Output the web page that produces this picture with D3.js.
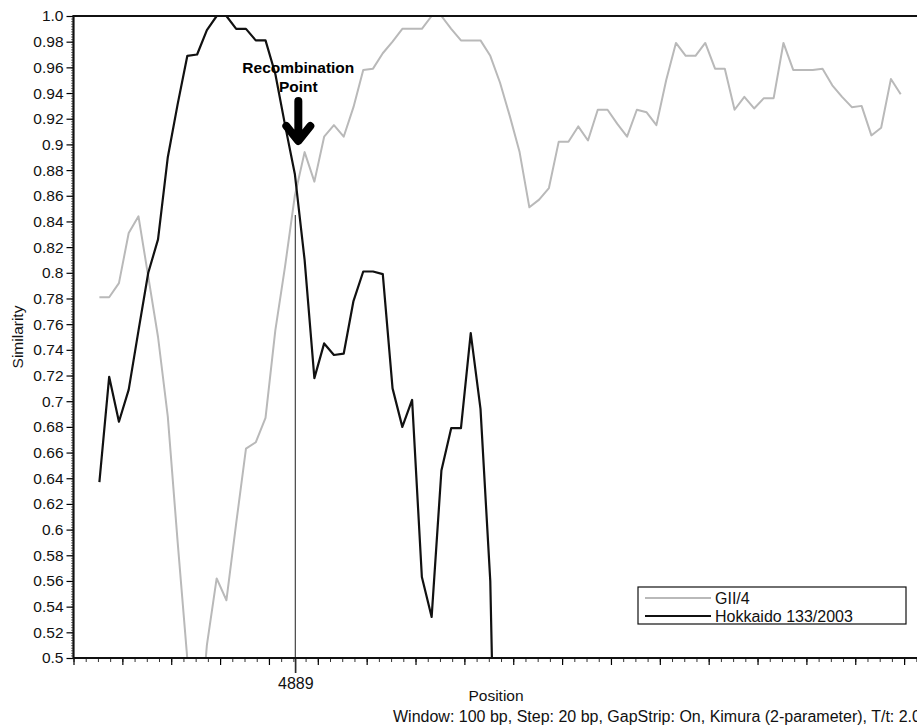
<!DOCTYPE html>
<html>
<head>
<meta charset="utf-8">
<script src="https://cdn.jsdelivr.net/npm/d3@7"></script>
<style>
  body { margin: 0; background: #fff; }
  svg { display: block; font-family: "Liberation Sans", Arial, sans-serif; }
</style>
</head>
<body>
<svg id="chart" width="917" height="727"></svg>
<script>
//Series values (similarity), one point per 20 bp step
const gii4 = [0.781, 0.781, 0.792, 0.831, 0.844, 0.797, 0.750, 0.688, 0.591, 0.499,
  0.420, 0.510, 0.562, 0.545, 0.605, 0.663, 0.668, 0.687, 0.755, 0.805,
  0.860, 0.894, 0.871, 0.906, 0.915, 0.906, 0.929, 0.958, 0.959, 0.971,
  0.980, 0.990, 0.990, 0.990, 1.000, 1.000, 0.990, 0.981, 0.981, 0.981,
  0.969, 0.948, 0.922, 0.894, 0.851, 0.857, 0.866, 0.902, 0.902, 0.914,
  0.903, 0.927, 0.927, 0.916, 0.906, 0.927, 0.925, 0.915, 0.950, 0.979,
  0.969, 0.969, 0.979, 0.959, 0.959, 0.927, 0.937, 0.928, 0.936, 0.936,
  0.979, 0.958, 0.958, 0.958, 0.959, 0.946, 0.937, 0.929, 0.930, 0.907,
  0.913, 0.951, 0.939];
const hokkaido = [0.637, 0.719, 0.684, 0.709, 0.755, 0.800, 0.826, 0.890, 0.931, 0.969,
  0.970, 0.989, 1.000, 1.000, 0.990, 0.990, 0.981, 0.981, 0.955, 0.915,
  0.877, 0.810, 0.718, 0.745, 0.736, 0.737, 0.778, 0.801, 0.801, 0.799,
  0.710, 0.680, 0.701, 0.563, 0.532, 0.646, 0.679, 0.679, 0.753, 0.694,
  0.560, 0.200];

//Window positions (bp)
const firstPosition = 4488;
const stepBp = 20;
const positions = d3.range(gii4.length).map(i => firstPosition + i * stepBp);

//Axis settings
const xMin = 4435, xMax = 6235;
const recombination = 4889;
const xTickLabels = ["4889"];
const yTickLabels = ["0.5", "0.52", "0.54", "0.56", "0.58", "0.6", "0.62", "0.64", "0.66", "0.68",
  "0.7", "0.72", "0.74", "0.76", "0.78", "0.8", "0.82", "0.84", "0.86", "0.88",
  "0.9", "0.92", "0.94", "0.96", "0.98", "1.0"];

const seriesNames = ["GII/4", "Hokkaido 133/2003"];
const seriesColors = ["#b9b9b9", "#111111"];
const footnote = "Window: 100 bp, Step: 20 bp, GapStrip: On, Kimura (2-parameter), T/t: 2.0";

//Layout
const svg = d3.select("#chart");
const plotLeft = 73.5, plotTop = 16, plotBottom = 658;
const x = d3.scaleLinear().domain([xMin, xMax]).range([plotLeft, plotLeft + (xMax - xMin) * 0.4886]);
const y = d3.scaleLinear().domain([0.5, 1.0]).range([plotBottom, plotTop]);

svg.append("clipPath").attr("id", "plot-clip")
  .append("rect")
  .attr("x", plotLeft).attr("y", plotTop)
  .attr("width", x(xMax) - plotLeft).attr("height", plotBottom - plotTop);

//Recombination line
svg.append("line")
  .attr("x1", x(recombination)).attr("x2", x(recombination))
  .attr("y1", y(0.845)).attr("y2", plotBottom + 15)
  .attr("stroke", "#444").attr("stroke-width", 1.2);

//Series lines
const line = d3.line()
  .x((d, i) => x(positions[i]))
  .y(d => y(d));

const plot = svg.append("g").attr("clip-path", "url(#plot-clip)");
[gii4, hokkaido].forEach((series, k) => {
  plot.append("path")
    .datum(series)
    .attr("d", line)
    .attr("fill", "none")
    .attr("stroke", seriesColors[k])
    .attr("stroke-width", k === 0 ? 2 : 2.2)
    .attr("stroke-linejoin", "round");
});

//Y axis
const yMinor = d3.range(0.5, 1.0001, 0.002);
svg.append("g")
  .attr("transform", `translate(${plotLeft},0)`)
  .call(d3.axisLeft(y).tickValues(yMinor).tickSize(2.5).tickFormat(""))
  .call(g => g.select(".domain").remove())
  .selectAll("line").attr("stroke", "#777");

svg.append("g")
  .attr("transform", `translate(${plotLeft},0)`)
  .call(d3.axisLeft(y).tickValues(yTickLabels.map(Number)).tickSize(7).tickPadding(3)
    .tickFormat((d, i) => yTickLabels[i]))
  .call(g => g.select(".domain").remove())
  .call(g => g.selectAll("line").attr("stroke", "#000").attr("stroke-width", 1.2))
  .call(g => g.selectAll("text").attr("font-size", 15.5).attr("fill", "#111")
    .attr("font-family", "'Liberation Sans', Arial, sans-serif"));

//X axis
const xMinor = d3.range(xMin, xMax + 1, 25);
const xMajor = d3.range(xMin, xMax + 1, 100);
svg.append("g")
  .attr("transform", `translate(0,${plotBottom})`)
  .call(d3.axisBottom(x).tickValues(xMinor).tickSize(4).tickFormat(""))
  .call(g => g.select(".domain").remove())
  .selectAll("line").attr("stroke", "#333");
svg.append("g")
  .attr("transform", `translate(0,${plotBottom})`)
  .call(d3.axisBottom(x).tickValues(xMajor).tickSize(7).tickFormat(""))
  .call(g => g.select(".domain").remove())
  .selectAll("line").attr("stroke", "#000").attr("stroke-width", 1.2);

svg.append("g")
  .attr("transform", `translate(0,${plotBottom})`)
  .call(d3.axisBottom(x).tickValues(xTickLabels.map(Number)).tickSize(15).tickPadding(5)
    .tickFormat((d, i) => xTickLabels[i]))
  .call(g => g.select(".domain").remove())
  .call(g => g.selectAll("line").attr("stroke", "#222").attr("stroke-width", 1.2))
  .call(g => g.selectAll("text").attr("font-size", 16).attr("fill", "#111")
    .attr("font-family", "'Liberation Sans', Arial, sans-serif"));

//Frame: left, top, bottom
svg.append("path")
  .attr("d", `M${x(xMax)},${plotTop}H${plotLeft}V${plotBottom}H${x(xMax)}`)
  .attr("fill", "none").attr("stroke", "#111").attr("stroke-width", 2.2);

//Axis titles
svg.append("text")
  .attr("transform", `translate(23,337) rotate(-90)`)
  .attr("text-anchor", "middle").attr("font-size", 15.5).attr("fill", "#111")
  .text("Similarity");
svg.append("text")
  .attr("x", 496).attr("y", 701)
  .attr("text-anchor", "middle").attr("font-size", 15.5).attr("fill", "#111")
  .text("Position");
svg.append("text")
  .attr("x", 393).attr("y", 722)
  .attr("font-size", 16).attr("fill", "#111")
  .text(footnote);

//Recombination annotation
const rx = x(recombination) + 3;
svg.append("text")
  .attr("x", rx).attr("y", 73)
  .attr("text-anchor", "middle").attr("font-size", 15.5).attr("font-weight", "bold")
  .text("Recombination");
svg.append("text")
  .attr("x", rx).attr("y", 92)
  .attr("text-anchor", "middle").attr("font-size", 15.5).attr("font-weight", "bold")
  .text("Point");
svg.append("path")
  .attr("d", `M${rx},101V140M${rx - 12},126L${rx},141L${rx + 12},126`)
  .attr("fill", "none").attr("stroke", "#000").attr("stroke-width", 8)
  .attr("stroke-linecap", "round").attr("stroke-linejoin", "round");

//Legend
const legend = svg.append("g").attr("transform", "translate(638,587)");
legend.append("rect")
  .attr("width", 268).attr("height", 37)
  .attr("fill", "#fff").attr("stroke", "#111").attr("stroke-width", 1.2);
seriesNames.forEach((name, k) => {
  const ly = 11 + k * 18;
  legend.append("line")
    .attr("x1", 7).attr("x2", 73).attr("y1", ly).attr("y2", ly)
    .attr("stroke", seriesColors[k]).attr("stroke-width", 2);
  legend.append("text")
    .attr("x", 77).attr("y", ly + 5.5)
    .attr("font-size", 16).attr("fill", "#111")
    .text(name);
});
</script>
</body>
</html>
